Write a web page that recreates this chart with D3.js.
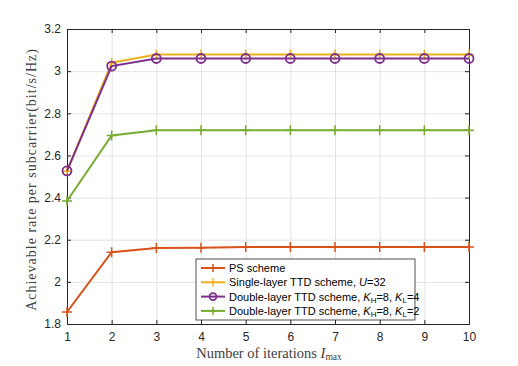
<!DOCTYPE html>
<html>
<head>
<meta charset="utf-8">
<script src="https://cdn.jsdelivr.net/npm/d3@7"></script>
<style>
  body { margin: 0; background: #fff; }
  svg { display: block; }
  .tick text { font-family: "Liberation Sans", Arial, sans-serif; font-size: 12px; fill: #262626; }
  .grid line { stroke: #e3e3e3; }
  .grid path { display: none; }
</style>
</head>
<body>
<div id="chart"></div>
<script>
const iterations = [1, 2, 3, 4, 5, 6, 7, 8, 9, 10];
const psScheme = [1.857, 2.141, 2.161, 2.162, 2.166, 2.166, 2.166, 2.166, 2.166, 2.166];
const singleLayer = [2.525, 3.040, 3.079, 3.079, 3.079, 3.079, 3.079, 3.079, 3.079, 3.079];
const doubleKL4 = [2.527, 3.024, 3.060, 3.060, 3.060, 3.060, 3.060, 3.060, 3.060, 3.060];
const doubleKL2 = [2.384, 2.695, 2.720, 2.720, 2.720, 2.720, 2.720, 2.720, 2.720, 2.720];
const yTicks = [1.8, 2, 2.2, 2.4, 2.6, 2.8, 3, 3.2];

const margin = { top: 29, right: 49, bottom: 42, left: 67 },
      width = 518 - margin.left - margin.right,
      height = 366 - margin.top - margin.bottom;

const svg = d3.select("#chart")
              .append("svg")
              .attr("width", 518)
              .attr("height", 366)
              .append("g")
              .attr("transform", `translate(${margin.left},${margin.top})`);

const x = d3.scaleLinear().domain([1, 10]).range([0, width]);
const y = d3.scaleLinear().domain([1.8, 3.2]).range([height, 0]);

// grid
svg.append("g").attr("class", "grid")
   .call(d3.axisBottom(x).tickValues(iterations).tickSize(height).tickFormat(""));
svg.append("g").attr("class", "grid")
   .call(d3.axisLeft(y).tickValues(yTicks).tickSize(-width).tickFormat(""));

// axes
const axisColor = "#262626";
svg.append("g")
   .attr("transform", `translate(0,${height})`)
   .call(d3.axisBottom(x).tickValues(iterations).tickSize(-4).tickPadding(8).tickFormat(d3.format("d")));
svg.append("g")
   .call(d3.axisLeft(y).tickValues(yTicks).tickSize(-4).tickPadding(6).tickFormat(d => d3.format("")(+d.toFixed(1))));
svg.append("g")
   .call(d3.axisTop(x).tickValues(iterations).tickSize(-4).tickFormat(""));
svg.append("g")
   .attr("transform", `translate(${width},0)`)
   .call(d3.axisRight(y).tickValues(yTicks).tickSize(-4).tickFormat(""));
svg.selectAll(".domain").attr("stroke", axisColor);
svg.selectAll(".tick line").filter(function() { return !this.closest(".grid"); }).attr("stroke", axisColor);

const series = [
  { name: "PS scheme", values: psScheme, color: "#D95319", marker: "plus" },
  { name: "Single-layer", values: singleLayer, color: "#EDB120", marker: "plus" },
  { name: "Double4", values: doubleKL4, color: "#7E2F8E", marker: "circle" },
  { name: "Double2", values: doubleKL2, color: "#77AC30", marker: "plus" }
];

const line = d3.line().x((d, i) => x(iterations[i])).y(d => y(d));

function drawMarker(g, cx, cy, s, size) {
  if (s.marker === "plus") {
    g.append("path")
     .attr("d", `M${cx - size},${cy}H${cx + size}M${cx},${cy - size}V${cy + size}`)
     .attr("stroke", s.color).attr("stroke-width", 1.5).attr("fill", "none");
  } else {
    g.append("circle").attr("cx", cx).attr("cy", cy).attr("r", size - 0.5)
     .attr("stroke", s.color).attr("stroke-width", 1.8).attr("fill", "none");
  }
}

series.forEach(s => {
  svg.append("path")
     .datum(s.values)
     .attr("fill", "none")
     .attr("stroke", s.color)
     .attr("stroke-width", 2)
     .attr("d", line);
  const mg = svg.append("g");
  s.values.forEach((v, i) => drawMarker(mg, x(iterations[i]), y(v), s, 5));
});

// axis labels
svg.append("text")
   .attr("x", width / 2 + 1)
   .attr("y", height + 34)
   .attr("text-anchor", "middle")
   .attr("font-family", "'Liberation Serif', 'DejaVu Serif', serif")
   .attr("font-size", 14.5)
   .attr("fill", "#404040")
   .html('Number of iterations <tspan font-style="italic">I</tspan><tspan font-size="9.5" dy="2">max</tspan>');

svg.append("text")
   .attr("transform", "rotate(-90)")
   .attr("x", -height / 2 - 3)
   .attr("y", -31)
   .attr("text-anchor", "middle")
   .attr("font-family", "'Liberation Serif', 'DejaVu Serif', serif")
   .attr("font-size", 14)
   .attr("letter-spacing", 1)
   .attr("fill", "#404040")
   .text("Achievable rate per subcarrier(bit/s/Hz)");

// legend
const legend = svg.append("g").attr("transform", `translate(${196 - margin.left},${259 - margin.top})`);
legend.append("rect")
      .attr("width", 219).attr("height", 61)
      .attr("fill", "#fff").attr("stroke", axisColor).attr("stroke-width", 0.8);

const legendLabels = [
  'PS scheme',
  'Single-layer TTD scheme, <tspan font-style="italic">U</tspan>=32',
  'Double-layer TTD scheme, <tspan font-style="italic">K</tspan><tspan font-size="8" dy="2">H</tspan><tspan dy="-2">=8, </tspan><tspan font-style="italic">K</tspan><tspan font-size="8" dy="2">L</tspan><tspan dy="-2">=4</tspan>',
  'Double-layer TTD scheme, <tspan font-style="italic">K</tspan><tspan font-size="8" dy="2">H</tspan><tspan dy="-2">=8, </tspan><tspan font-style="italic">K</tspan><tspan font-size="8" dy="2">L</tspan><tspan dy="-2">=2</tspan>'
];

series.forEach((s, i) => {
  const ly = 9 + i * 14.3;
  legend.append("line")
        .attr("x1", 5).attr("x2", 29).attr("y1", ly).attr("y2", ly)
        .attr("stroke", s.color).attr("stroke-width", 2);
  drawMarker(legend, 17, ly, s, 4);
  legend.append("text")
        .attr("x", 33).attr("y", ly + 4)
        .attr("font-family", "'Liberation Sans', Arial, sans-serif")
        .attr("font-size", 11)
        .attr("fill", "#000")
        .html(legendLabels[i]);
});
</script>
</body>
</html>
